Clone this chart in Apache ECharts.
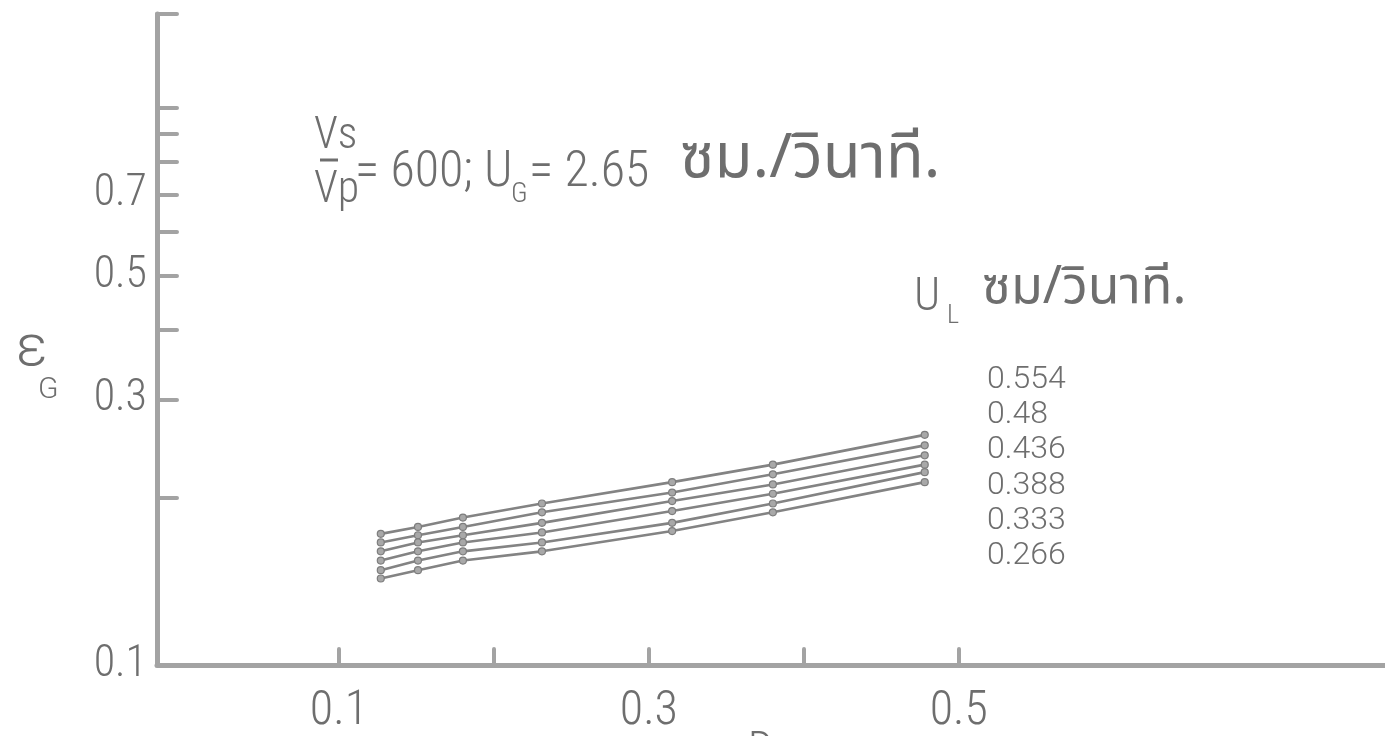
<!DOCTYPE html>
<html>
<head>
<meta charset="utf-8">
<style>
  html, body { margin: 0; padding: 0; background: #ffffff; }
  #chart { width: 1385px; height: 736px; }
</style>
<script src="https://cdn.jsdelivr.net/npm/echarts@6/dist/echarts.min.js"></script>
</head>
<body>
<div id="chart"></div>
<script>
// Gas holdup vs. D for several liquid velocities (log y axis)
const xValues = [0.127, 0.151, 0.180, 0.231, 0.315, 0.380, 0.478];

const flowLabels = ['0.554', '0.48', '0.436', '0.388', '0.333', '0.266'];

const holdup0554 = [0.172, 0.177, 0.184, 0.195, 0.213, 0.229, 0.259];
const holdup048  = [0.166, 0.171, 0.177, 0.188, 0.204, 0.220, 0.248];
const holdup0436 = [0.160, 0.166, 0.171, 0.180, 0.197, 0.211, 0.238];
const holdup0388 = [0.154, 0.160, 0.166, 0.173, 0.189, 0.203, 0.229];
const holdup0333 = [0.148, 0.154, 0.160, 0.166, 0.180, 0.195, 0.222];
const holdup0266 = [0.143, 0.148, 0.154, 0.160, 0.174, 0.188, 0.213];

const seriesValues = [holdup0554, holdup048, holdup0436, holdup0388, holdup0333, holdup0266];

const yTickValues  = [0.2, 0.3, 0.4, 0.5, 0.6, 0.7, 0.8, 0.9, 1.0, 1.476];
const yLabelValues = [0.1, 0.3, 0.5, 0.7];
const xTickValues  = [0.1, 0.2, 0.3, 0.4, 0.5];
const xLabelValues = [0.1, 0.3, 0.5];

const INK = '#6e6e6e';
const AXIS = '#a3a3a3';
const NARROW = "'Roboto Condensed', 'DejaVu Sans Condensed', 'Liberation Sans Narrow', Roboto, sans-serif";
const PLAIN = "Roboto, 'DejaVu Sans', sans-serif";
const THAI = "'Noto Sans Thai', 'Noto Serif Thai', 'Loma', 'Garuda', 'Norasi', sans-serif";

const chart = echarts.init(document.getElementById('chart'), null, { renderer: 'canvas' });

const series = seriesValues.map((vals, i) => ({
  name: flowLabels[i],
  type: 'line',
  data: xValues.map((x, j) => [x, vals[j]]),
  symbol: 'circle',
  symbolSize: 7,
  showSymbol: true,
  lineStyle: { color: '#838383', width: 2.6 },
  itemStyle: { color: '#a8a8a8', borderColor: '#7d7d7d', borderWidth: 1.2 },
  silent: true,
  animation: false
}));

// text placed by its left edge and vertical middle
function txt(x, y, text, size, family, extra) {
  return {
    type: 'text', x: x, y: y,
    style: Object.assign({
      text: text, fontSize: size, fontFamily: family, fill: INK, fontWeight: 300,
      align: 'left', verticalAlign: 'middle'
    }, extra || {})
  };
}

const flowLabelMids = [380, 415, 450, 486, 521, 556];

const graphics = [
  // Vs / Vp fraction
  txt(314, 137, 'Vs', 44, NARROW),
  { type: 'line', shape: { x1: 320, y1: 160, x2: 338, y2: 160 }, style: { stroke: INK, lineWidth: 3 } },
  txt(314, 191, 'Vp', 44, NARROW),
  txt(355, 173, '= 600; U', 50, NARROW),
  txt(511, 195, 'G', 28, NARROW),
  txt(529, 173, '= 2.65', 50, NARROW),
  txt(680, 164, 'ซม./วินาที.', 62, THAI, { fontWeight: 'normal' }),
  // liquid velocity header and values
  txt(914, 298, 'U', 46, NARROW),
  txt(947, 316, 'L', 26, NARROW),
  txt(982, 292, 'ซม/วินาที.', 52, THAI, { fontWeight: 'normal' }),
  // y-axis name
  txt(16, 350, 'ε', 58, PLAIN),
  txt(38, 390, 'G', 30, PLAIN),
  // x-axis name (mostly below the page edge)
  txt(748, 752, 'D', 44, NARROW)
].concat(flowLabels.map((s, i) => txt(987, flowLabelMids[i], s, 32, PLAIN)));

chart.setOption({
  backgroundColor: '#ffffff',
  animation: false,
  grid: { left: 157, right: 0, top: 14, bottom: 59, containLabel: false },
  xAxis: {
    type: 'value',
    min: -0.0174,
    max: 0.775,
    axisLine: { show: true, onZero: false, lineStyle: { color: AXIS, width: 5, cap: 'round' } },
    axisTick: { show: true, inside: true, length: 16, customValues: xTickValues,
      lineStyle: { color: AXIS, width: 4, cap: 'round' } },
    axisLabel: { show: true, customValues: xLabelValues, margin: 23, color: INK,
      fontSize: 48, fontFamily: NARROW, fontWeight: 300,
      formatter: v => String(+v.toFixed(1)) },
    splitLine: { show: false }
  },
  yAxis: {
    type: 'log',
    logBase: 10,
    min: 0.1,
    max: 1.476,
    axisLine: { show: true, onZero: false, lineStyle: { color: AXIS, width: 5, cap: 'round' } },
    axisTick: { show: true, inside: true, length: 20, customValues: yTickValues,
      lineStyle: { color: AXIS, width: 4, cap: 'round' } },
    axisLabel: { show: true, customValues: yLabelValues, margin: 10, color: INK,
      fontSize: 44, fontFamily: NARROW, fontWeight: 300,
      formatter: v => String(+v.toFixed(1)) },
    splitLine: { show: false },
    minorTick: { show: false }
  },
  series: series,
  graphic: graphics
});
</script>
</body>
</html>
